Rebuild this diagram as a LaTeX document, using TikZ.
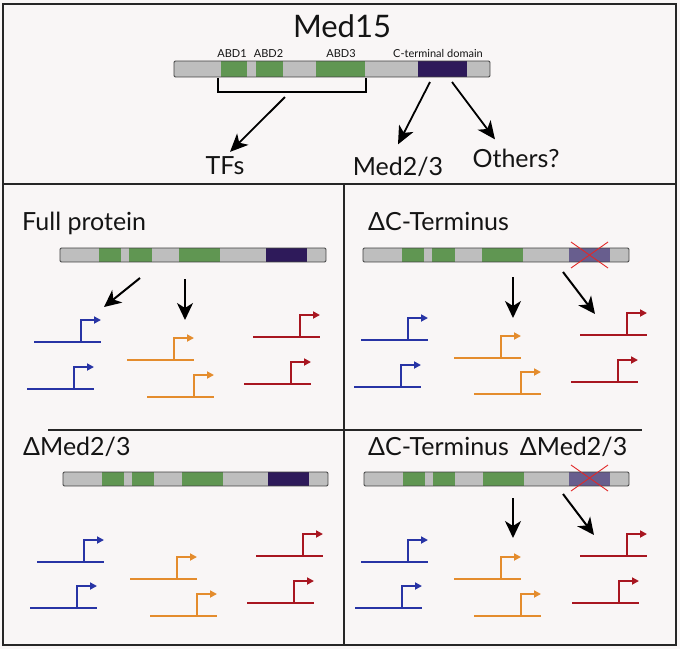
\documentclass[tikz,border=0pt]{standalone}
\usepackage{fontspec}
\setmainfont{Lato}
\usetikzlibrary{arrows.meta, positioning}
\definecolor{paper}{RGB}{249,246,246}
\definecolor{bargrey}{RGB}{190,190,190}
\definecolor{abdgreen}{RGB}{96,150,82}
\definecolor{ctdpurple}{RGB}{46,26,90}
\definecolor{ctdfaded}{RGB}{104,94,142}
\definecolor{geneblue}{RGB}{40,52,165}
\definecolor{geneorange}{RGB}{228,140,45}
\definecolor{genered}{RGB}{168,22,32}
\definecolor{crossred}{RGB}{225,40,40}

% protein bar: [ctd colour]{name}{left}{top}{length}{height}
\newcommand{\protein}[6][ctdpurple]{%
  \node[protbar, minimum width=#5pt, minimum height=#6pt, anchor=north west] (#2) at (#3,#4) {};
  \fill[abdgreen] (#3+.148*#5,#4) rectangle (#3+.230*#5,#4+#6);
  \fill[abdgreen] (#3+.259*#5,#4) rectangle (#3+.344*#5,#4+#6);
  \fill[abdgreen] (#3+.448*#5,#4) rectangle (#3+.603*#5,#4+#6);
  \fill[#1] (#3+.773*#5,#4) rectangle (#3+.927*#5,#4+#6);
  \draw[barline] (#2.north west) rectangle (#2.south east);
}
% promoter with bent arrow: {colour}{left}{baseline}
\newcommand{\gene}[3]{%
  \draw[genestroke, #1] (#2,#3) -- ++(67,0);
  \draw[genestroke, #1, -{Triangle[length=7pt,width=7pt]}] (#2+47,#3) -- ++(0,-22) -- ++(20,0);
}

\begin{document}
\begin{tikzpicture}[
    x=1pt, y=-1pt,
    every node/.style={text=black!92},
    protbar/.style={fill=bargrey, inner sep=0pt, outer sep=0pt},
    barline/.style={draw=black!75, line width=0.9pt, rounded corners=1.2pt},
    genestroke/.style={line width=1.7pt},
    framerule/.style={draw=black!85, line width=2pt},
    bigarrow/.style={-{Stealth[length=18pt,width=16pt,inset=5pt]}, line width=1.8pt},
    panelarrow/.style={-{Stealth[length=17pt,width=16pt,inset=5pt]}, line width=2pt},
    crossline/.style={draw=crossred, line width=0.9pt},
    titletext/.style={font=\fontsize{31}{36}\selectfont, inner sep=0pt, anchor=base},
    domaintext/.style={font=\fontsize{11}{13}\selectfont, inner sep=0pt, anchor=base},
    partnertext/.style={font=\fontsize{25}{30}\selectfont, inner sep=0pt, anchor=base},
    paneltext/.style={font=\fontsize{25}{30}\selectfont, inner sep=0pt, anchor=base west}
  ]
  \fill[paper] (0,0) rectangle (680,649);
  \useasboundingbox (0,0) rectangle (680,649);

  % frames
  \draw[framerule] (3,4) rectangle (676,645);
  \draw[framerule] (3,184) -- (676,184);
  \draw[framerule] (344,184) -- (344,645);
  \draw[framerule, line width=1.6pt] (48,430) -- (642,430);

  % Med15 overview
  \node[titletext] (med15) at (342,37) {Med15};
  \protein{top}{174}{61}{316}{16}
  \node[domaintext] (abd1) at (232,57) {ABD1};
  \node[domaintext] (abd2) at (268.5,57) {ABD2};
  \node[domaintext] (abd3) at (341,57) {ABD3};
  \node[domaintext] (ctd) at (438,57) {C-terminal domain};
  \draw[line width=1.5pt] (218,78) -- (218,92) -- (366,92) -- (366,78);
  \coordinate (abdsite) at (285,97);
  \coordinate (ctdleft) at (430,82);
  \coordinate (ctdright) at (452,82);
  \node[partnertext] (tfs) at (225,174) {TFs};
  \node[partnertext] (med23) at (398,175) {Med2/3};
  \node[partnertext] (others) at (516,167) {Others?};
  \draw[bigarrow] (abdsite) -- ([xshift=5pt,yshift=4pt]tfs.north);
  \draw[bigarrow] (ctdleft) -- ([yshift=12pt]med23.north);
  \draw[bigarrow] (ctdright) -- ([xshift=-21pt,yshift=9pt]others.north);

  % full protein
  \node[paneltext] (full) at (22,230) {Full protein};
  \protein{fullbar}{60}{248}{266}{14}
  \coordinate (full-a) at (140,278);
  \coordinate (full-b) at (185,279);
  \coordinate (full-ta) at (104,307);
  \coordinate (full-tb) at (185,320);
  \draw[panelarrow] (full-a) -- (full-ta);
  \draw[panelarrow] (full-b) -- (full-tb);
  \gene{geneblue}{34}{342}
  \gene{geneblue}{27}{389}
  \gene{geneorange}{127}{360}
  \gene{geneorange}{147}{397}
  \gene{genered}{253}{337}
  \gene{genered}{244}{384}

  % without C-terminus
  \node[paneltext] (noctd) at (368,230) {ΔC-Terminus};
  \protein[ctdfaded]{noctdbar}{363}{248}{266}{14}
  \draw[crossline] (571,242) -- (608,268) (571,268) -- (608,242);
  \coordinate (noctd-a) at (513,277);
  \coordinate (noctd-b) at (563,272);
  \coordinate (noctd-ta) at (513,318);
  \coordinate (noctd-tb) at (595,314);
  \draw[panelarrow] (noctd-a) -- (noctd-ta);
  \draw[panelarrow] (noctd-b) -- (noctd-tb);
  \gene{geneblue}{361}{340}
  \gene{geneblue}{354}{387}
  \gene{geneorange}{454}{358}
  \gene{geneorange}{474}{394}
  \gene{genered}{580}{335}
  \gene{genered}{571}{382}

  % without Med2/3
  \node[paneltext] (nomed) at (23,455) {ΔMed2/3};
  \protein{nomedbar}{63}{472}{265}{14}
  \gene{geneblue}{37}{562}
  \gene{geneblue}{30}{608}
  \gene{geneorange}{130}{579}
  \gene{geneorange}{150}{616}
  \gene{genered}{256}{556}
  \gene{genered}{247}{603}

  % without both
  \node[paneltext] (noboth) at (368,455) {ΔC-Terminus\hspace{11pt}ΔMed2/3};
  \protein[ctdfaded]{nobothbar}{364}{472}{265}{14}
  \draw[crossline] (571,465) -- (608,491) (571,491) -- (608,465);
  \coordinate (noboth-a) at (513,498);
  \coordinate (noboth-b) at (563,494);
  \coordinate (noboth-ta) at (513,538);
  \coordinate (noboth-tb) at (594,535);
  \draw[panelarrow] (noboth-a) -- (noboth-ta);
  \draw[panelarrow] (noboth-b) -- (noboth-tb);
  \gene{geneblue}{361}{562}
  \gene{geneblue}{355}{608}
  \gene{geneorange}{454}{579}
  \gene{geneorange}{474}{616}
  \gene{genered}{580}{556}
  \gene{genered}{572}{603}
\end{tikzpicture}
\end{document}
